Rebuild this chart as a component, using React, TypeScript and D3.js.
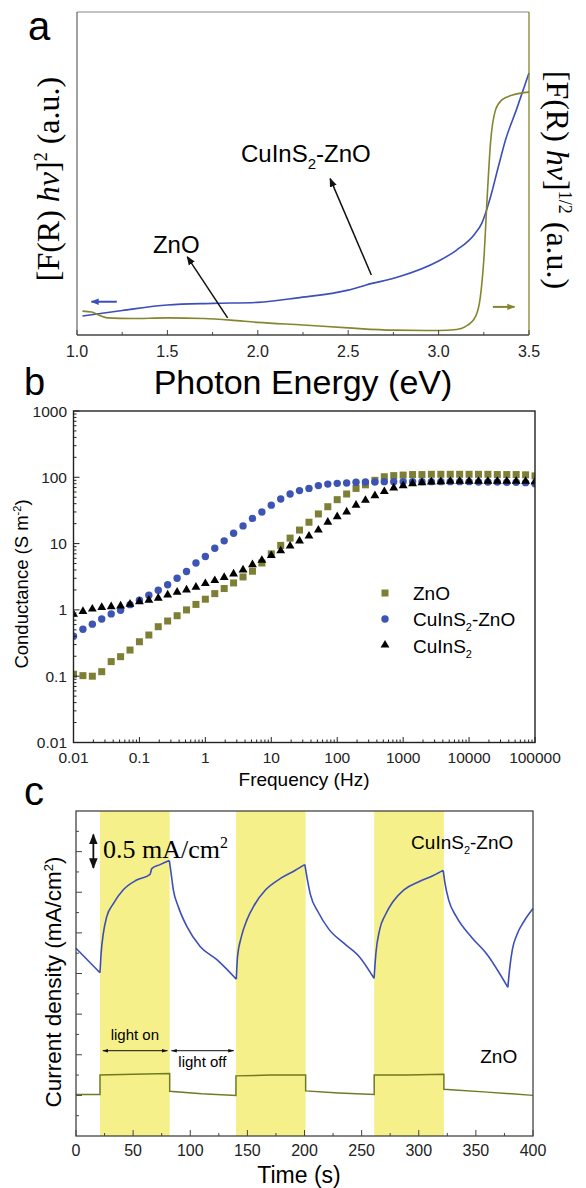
import React from "react";
import * as d3 from "d3";

// ---------- panel a : Kubelka-Munk plots ----------
const energyBlue = [1.03, 1.25, 1.5, 1.75, 2.0, 2.22, 2.5, 2.6, 2.78, 3.0, 3.1, 3.2, 3.24, 3.287, 3.33, 3.37, 3.43, 3.5];
const kmBlue = [5.9, 7.6, 9.3, 9.8, 10.1, 11.5, 13.9, 15.5, 18.0, 22.9, 26.3, 31.3, 34.7, 42.7, 52.0, 60.4, 69.7, 81.1];
const energyOlive = [1.03, 1.08, 1.12, 1.17, 1.3, 1.5, 1.7, 1.85, 2.0, 2.25, 2.5, 2.75, 3.0, 3.1, 3.148, 3.204, 3.231, 3.25, 3.27, 3.287, 3.315, 3.35, 3.41, 3.5];
const kmOlive = [7.4, 7.1, 6.2, 5.3, 5.1, 5.3, 5.1, 4.6, 3.9, 3.1, 2.2, 1.5, 1.4, 1.7, 2.6, 5.7, 11.8, 23.2, 44.0, 59.4, 69.7, 72.8, 74.3, 75.2];
const energyTicks = [1.0, 1.5, 2.0, 2.5, 3.0, 3.5];

// ---------- panel b : conductance vs frequency ----------
const freq = [
  0.01, 0.0139, 0.0193, 0.0268, 0.0373, 0.0518, 0.072,
  0.1, 0.139, 0.193, 0.268, 0.373, 0.518, 0.72,
  1, 1.39, 1.93, 2.68, 3.73, 5.18, 7.2,
  10, 13.9, 19.3, 26.8, 37.3, 51.8, 72,
  100, 139, 193, 268, 373, 518, 720,
  1000, 1390, 1930, 2680, 3730, 5180, 7200,
  10000, 13900, 19300, 26800, 37300, 51800, 72000, 100000,
];
const condZnO = [
  0.107, 0.102, 0.1, 0.117, 0.166, 0.197, 0.248,
  0.331, 0.418, 0.558, 0.68, 0.817, 1.0, 1.21,
  1.45, 1.76, 2.1, 2.55, 3.14, 3.83, 5.1,
  7.0, 9.4, 12.1, 16, 21, 28, 36,
  46, 56, 68, 77, 90, 102, 106,
  108, 110, 110, 111, 111, 111, 111,
  111, 111, 111, 110, 110, 110, 109, 105,
];
const condCuZnO = [
  0.4, 0.51, 0.61, 0.73, 0.87, 0.99, 1.2,
  1.4, 1.66, 1.98, 2.4, 3.0, 3.8, 5.1,
  6.4, 8.5, 11, 14.3, 18.5, 24, 30,
  38, 47, 56, 63, 68, 75, 79,
  81, 82, 84, 85, 85, 86, 86,
  86, 86, 86, 86, 86, 86, 86,
  86, 85, 85, 85, 84, 84, 83, 80,
];
const condCu = [
  0.86, 0.95, 1.03, 1.09, 1.12, 1.15, 1.22,
  1.33, 1.4, 1.5, 1.68, 1.85, 2.0, 2.2,
  2.5, 2.77, 3.1, 3.5, 4.0, 4.8, 5.6,
  6.6, 7.8, 9.2, 11, 13, 16, 21,
  25.5, 30, 38, 45, 53, 61, 69,
  75, 80, 83, 85, 86, 87, 87,
  87, 87, 87, 87, 87, 87, 87, 86,
];
const freqTicks = [0.01, 0.1, 1, 10, 100, 1000, 10000, 100000];
const freqTickLabels = ["0.01", "0.1", "1", "10", "100", "1000", "10000", "100000"];
const condTicks = [0.01, 0.1, 1, 10, 100, 1000];
const condTickLabels = ["0.01", "0.1", "1", "10", "100", "1000"];

// ---------- panel c : photocurrent ----------
const lightOn = [[21, 82], [140, 201], [261, 322]];
const timeBlue = [0, 21, 22, 23.9, 26.9, 32.7, 41.4, 53.1, 64.8, 66.3, 73.6, 81.7, 82.9, 85.2, 89.6, 97, 108.8, 123.3, 140.3,
  141.4, 144.7, 149.6, 156, 166, 179, 192, 200.3, 202.6, 205.2, 211.8, 221.6, 234.7, 247.8, 260.9,
  262.5, 265.8, 270.7, 277.2, 287, 300.1, 313.2, 321.4, 323, 326.3, 332.9, 346, 359, 378,
  379.5, 382, 386, 392, 400];
const jBlue = [2.31, 2.01, 2.25, 2.49, 2.7, 2.86, 3.03, 3.15, 3.22, 3.29, 3.34, 3.39, 3.27, 3.03, 2.82, 2.58, 2.33, 2.17, 1.93,
  2.21, 2.45, 2.66, 2.84, 3.03, 3.17, 3.27, 3.34, 3.15, 2.97, 2.76, 2.54, 2.37, 2.21, 1.94,
  2.25, 2.54, 2.72, 2.88, 3.03, 3.13, 3.21, 3.27, 3.11, 2.9, 2.7, 2.45, 2.25, 1.83,
  2.05, 2.3, 2.48, 2.64, 2.8];
const timeOlive = [0, 21, 21, 50, 82, 82, 110, 140, 140, 170, 201, 201, 230, 261, 261, 290, 322, 322, 360, 400];
const jOlive = [0.51, 0.51, 0.75, 0.76, 0.77, 0.55, 0.52, 0.5, 0.74, 0.75, 0.75, 0.555, 0.53, 0.51, 0.75, 0.75, 0.76, 0.575, 0.54, 0.5];
const timeTicks = [0, 50, 100, 150, 200, 250, 300, 350, 400];

const SANS = "Liberation Sans, Arial, sans-serif";
const SERIF = "Liberation Serif, Times New Roman, serif";
const BLUE = "#3c4fb8";
const OLIVE = "#85852e";
const AXIS = "#444";

// split a series at its turning points so each monotone piece can be smoothed
// without rounding off the cusps
function monotonePieces(pts: [number, number][]) {
  const pieces: [number, number][][] = [];
  let cur: [number, number][] = [pts[0]];
  let dir = 0;
  for (let i = 1; i < pts.length; i++) {
    const d = Math.sign(pts[i][1] - pts[i - 1][1]);
    if (dir !== 0 && d !== 0 && d !== dir) {
      pieces.push(cur);
      cur = [pts[i - 1]];
    }
    if (d !== 0) dir = d;
    cur.push(pts[i]);
  }
  pieces.push(cur);
  return pieces;
}

function PanelA() {
  const x = d3.scaleLinear().domain([1, 3.5]).range([77, 529]);
  const y = d3.scaleLinear().domain([0, 100]).range([335, 12]);
  const line = d3.line<number>().curve(d3.curveMonotoneX);
  const bluePath = line(energyBlue.map((e, i) => [x(e), y(kmBlue[i])] as [number, number]));
  const olivePath = line(energyOlive.map((e, i) => [x(e), y(kmOlive[i])] as [number, number]));
  const minor = d3.range(1.25, 3.5, 0.5);
  return (
    <g>
      <text x={28} y={40} fontFamily={SANS} fontSize={40}>a</text>
      <path d={bluePath!} fill="none" stroke={BLUE} strokeWidth={1.6} />
      <path d={olivePath!} fill="none" stroke={OLIVE} strokeWidth={1.6} />
      {/* frame */}
      <line x1={77} x2={529} y1={12} y2={12} stroke="#888" />
      <line x1={77} x2={77} y1={12} y2={335} stroke={AXIS} />
      <line x1={77} x2={529} y1={335} y2={335} stroke={AXIS} strokeWidth={1.3} />
      <line x1={529} x2={529} y1={12} y2={335} stroke={OLIVE} strokeWidth={1.3} />
      {energyTicks.map((t) => (
        <g key={t}>
          <line x1={x(t)} x2={x(t)} y1={335} y2={330} stroke={AXIS} />
          <text x={x(t)} y={357} textAnchor="middle" fontFamily={SANS} fontSize={16} fill="#222">{t.toFixed(1)}</text>
        </g>
      ))}
      {minor.map((t) => (
        <line key={t} x1={x(t)} x2={x(t)} y1={335} y2={332} stroke={AXIS} />
      ))}
      <text x={303} y={394} textAnchor="middle" fontFamily={SANS} fontSize={34}>Photon Energy (eV)</text>
      {/* axis labels */}
      <text transform="translate(59,179) rotate(-90)" textAnchor="middle" fontFamily={SERIF} fontSize={32}>
        [F(R) <tspan fontStyle="italic">hν</tspan>]<tspan dy={-12} fontSize={18}>2</tspan><tspan dy={12}> (a.u.)</tspan>
      </text>
      <text transform="translate(547,180) rotate(90)" textAnchor="middle" fontFamily={SERIF} fontSize={32}>
        [F(R) <tspan fontStyle="italic">hν</tspan>]<tspan dy={-12} fontSize={18}>1/2</tspan><tspan dy={12}> (a.u.)</tspan>
      </text>
      {/* small axis arrows */}
      <line x1={x(1.22)} x2={x(1.08)} y1={y(10.3)} y2={y(10.3)} stroke={BLUE} strokeWidth={2} markerEnd="url(#headBlue)" />
      <line x1={x(3.3)} x2={x(3.42)} y1={y(8.7)} y2={y(8.7)} stroke={OLIVE} strokeWidth={2} markerEnd="url(#headOlive)" />
      {/* annotations */}
      <text x={x(1.907)} y={y(53.6)} fontFamily={SANS} fontSize={24}>
        CuInS<tspan dy={7} fontSize={15}>2</tspan><tspan dy={-7}>-ZnO</tspan>
      </text>
      <line x1={x(2.628)} y1={y(18.6)} x2={x(2.4)} y2={y(48.4)} stroke="#111" strokeWidth={1.5} markerEnd="url(#headBlack)" />
      <text x={x(1.42)} y={y(25.4)} fontFamily={SANS} fontSize={24}>ZnO</text>
      <line x1={x(1.833)} y1={y(5.3)} x2={x(1.61)} y2={y(24.2)} stroke="#111" strokeWidth={1.5} markerEnd="url(#headBlack)" />
    </g>
  );
}

function PanelB() {
  const x = d3.scaleLog().domain([0.01, 100000]).range([73.5, 535]);
  const y = d3.scaleLog().domain([0.01, 1000]).range([742.5, 411]);
  const tri = d3.symbol(d3.symbolTriangle, 34)();
  const xMinor: number[] = [];
  freqTicks.slice(0, -1).forEach((d) => { for (let k = 2; k < 10; k++) xMinor.push(d * k); });
  const yMinor: number[] = [];
  condTicks.slice(0, -1).forEach((d) => { for (let k = 2; k < 10; k++) yMinor.push(d * k); });
  return (
    <g>
      <text x={24} y={395} fontFamily={SANS} fontSize={38}>b</text>
      <defs>
        <clipPath id="clipB"><rect x={73.5} y={411} width={461.5} height={331.5} /></clipPath>
      </defs>
      <g clipPath="url(#clipB)">
        {freq.map((f, i) => (
          <rect key={"s" + i} x={x(f) - 3.5} y={y(condZnO[i]) - 3.5} width={7} height={7} fill="#7e7f35" />
        ))}
        {freq.map((f, i) => (
          <circle key={"c" + i} cx={x(f)} cy={y(condCuZnO[i])} r={3.7} fill="#3c55b4" />
        ))}
        {freq.map((f, i) => (
          <path key={"t" + i} d={tri!} transform={`translate(${x(f)},${y(condCu[i])})`} fill="#000" />
        ))}
      </g>
      <rect x={73.5} y={411} width={461.5} height={331.5} fill="none" stroke="#222" strokeWidth={1.4} />
      {freqTicks.map((t, i) => (
        <g key={t}>
          <line x1={x(t)} x2={x(t)} y1={742.5} y2={737} stroke="#222" />
          <text x={x(t)} y={763} textAnchor="middle" fontFamily={SANS} fontSize={15.5} fill="#222">{freqTickLabels[i]}</text>
        </g>
      ))}
      {xMinor.map((t) => (
        <line key={t} x1={x(t)} x2={x(t)} y1={742.5} y2={739.5} stroke="#222" />
      ))}
      {condTicks.map((t, i) => (
        <g key={t}>
          <line x1={73.5} x2={79.5} y1={y(t)} y2={y(t)} stroke="#222" />
          <text x={67} y={y(t) + 5.5} textAnchor="end" fontFamily={SANS} fontSize={15.5} fill="#222">{condTickLabels[i]}</text>
        </g>
      ))}
      {yMinor.map((t) => (
        <line key={t} x1={73.5} x2={76.5} y1={y(t)} y2={y(t)} stroke="#222" />
      ))}
      <text x={304} y={786} textAnchor="middle" fontFamily={SANS} fontSize={19}>Frequency (Hz)</text>
      <text transform="translate(28,584) rotate(-90)" textAnchor="middle" fontFamily={SANS} fontSize={18.5}>
        Conductance (S m<tspan dy={-7} fontSize={11}>-2</tspan><tspan dy={7}>)</tspan>
      </text>
      {/* legend */}
      <rect x={381.5} y={589.5} width={7} height={7} fill="#7e7f35" />
      <text x={413} y={600} fontFamily={SANS} fontSize={19}>ZnO</text>
      <circle cx={385} cy={619} r={3.7} fill="#3c55b4" />
      <text x={413} y={626} fontFamily={SANS} fontSize={19}>
        CuInS<tspan dy={5} fontSize={11}>2</tspan><tspan dy={-5}>-ZnO</tspan>
      </text>
      <path d={tri!} transform="translate(385,645)" fill="#000" />
      <text x={413} y={653} fontFamily={SANS} fontSize={19}>
        CuInS<tspan dy={5} fontSize={11}>2</tspan>
      </text>
    </g>
  );
}

function PanelC() {
  const x = d3.scaleLinear().domain([0, 400]).range([76, 533]);
  const y = d3.scaleLinear().domain([0, 4]).range([1136, 811]);
  const smooth = d3.line<[number, number]>().curve(d3.curveMonotoneX);
  const bluePts = timeBlue.map((t, i) => [x(t), y(jBlue[i])] as [number, number]);
  const bluePath = monotonePieces(bluePts).map((p) => smooth(p)).join("");
  const olivePath = d3.line<[number, number]>()(timeOlive.map((t, i) => [x(t), y(jOlive[i])] as [number, number]));
  const yMajor = d3.range(0.5, 4, 0.5);
  const yMinor = d3.range(0.25, 4, 0.5);
  const xMinor = d3.range(25, 400, 50);
  return (
    <g>
      <text x={24} y={805} fontFamily={SANS} fontSize={40}>c</text>
      {lightOn.map(([a, b]) => (
        <rect key={a} x={x(a)} y={811} width={x(b) - x(a)} height={325} fill="#f6f08a" />
      ))}
      <path d={bluePath} fill="none" stroke={BLUE} strokeWidth={1.6} strokeLinejoin="round" />
      <path d={olivePath!} fill="none" stroke="#6f7a22" strokeWidth={1.5} />
      <rect x={76} y={811} width={457} height={325} fill="none" stroke={AXIS} strokeWidth={1.3} />
      {timeTicks.map((t) => (
        <g key={t}>
          <line x1={x(t)} x2={x(t)} y1={1136} y2={1130} stroke={AXIS} />
          <text x={x(t)} y={1156} textAnchor="middle" fontFamily={SANS} fontSize={16} fill="#222">{t}</text>
        </g>
      ))}
      {xMinor.map((t) => (
        <line key={t} x1={x(t)} x2={x(t)} y1={1136} y2={1133} stroke={AXIS} />
      ))}
      {yMajor.map((v) => (
        <line key={v} x1={76} x2={82} y1={y(v)} y2={y(v)} stroke={AXIS} />
      ))}
      {yMinor.map((v) => (
        <line key={v} x1={76} x2={79} y1={y(v)} y2={y(v)} stroke={AXIS} />
      ))}
      <text x={299} y={1183} textAnchor="middle" fontFamily={SANS} fontSize={23}>Time (s)</text>
      <text transform="translate(61,982) rotate(-90)" textAnchor="middle" fontFamily={SANS} fontSize={22.5}>
        Current density (mA/cm<tspan dy={-8} fontSize={13}>2</tspan><tspan dy={8}>)</tspan>
      </text>
      {/* scale bar */}
      <line x1={x(15.2)} x2={x(15.2)} y1={y(3.3)} y2={y(3.71)} stroke="#111" strokeWidth={1.8}
        markerStart="url(#headBlack)" markerEnd="url(#headBlack)" />
      <text x={x(23.6)} y={y(3.42)} fontFamily={SERIF} fontSize={26}>
        0.5 mA/cm<tspan dy={-10} fontSize={16}>2</tspan>
      </text>
      <text x={x(293.3)} y={y(3.53)} fontFamily={SANS} fontSize={19}>
        CuInS<tspan dy={5} fontSize={11}>2</tspan><tspan dy={-5}>-ZnO</tspan>
      </text>
      <text x={x(353.8)} y={y(0.9)} fontFamily={SANS} fontSize={19}>ZnO</text>
      {/* light on / off */}
      <text x={x(51.5)} y={y(1.18)} textAnchor="middle" fontFamily={SANS} fontSize={15}>light on</text>
      <line x1={x(23.5)} x2={x(80)} y1={y(1.05)} y2={y(1.05)} stroke="#111" strokeWidth={1}
        markerStart="url(#headSmall)" markerEnd="url(#headSmall)" />
      <line x1={x(83.5)} x2={x(138)} y1={y(1.05)} y2={y(1.05)} stroke="#111" strokeWidth={1}
        markerStart="url(#headSmall)" markerEnd="url(#headSmall)" />
      <text x={x(110.6)} y={y(0.85)} textAnchor="middle" fontFamily={SANS} fontSize={15}>light off</text>
    </g>
  );
}

export default function App() {
  return (
    <svg width={586} height={1188} style={{ position: "absolute", left: 0, top: 0, background: "#fff" }}>
      <defs>
        <marker id="headBlack" viewBox="0 0 10 10" refX={9} refY={5} markerWidth={6} markerHeight={6} orient="auto-start-reverse">
          <path d="M0,1 L10,5 L0,9 z" fill="#111" />
        </marker>
        <marker id="headSmall" viewBox="0 0 10 10" refX={9} refY={5} markerWidth={6} markerHeight={6} orient="auto-start-reverse">
          <path d="M0,2 L10,5 L0,8 z" fill="#111" />
        </marker>
        <marker id="headBlue" viewBox="0 0 10 10" refX={9} refY={5} markerWidth={4} markerHeight={4} orient="auto">
          <path d="M0,1 L10,5 L0,9 z" fill={BLUE} />
        </marker>
        <marker id="headOlive" viewBox="0 0 10 10" refX={9} refY={5} markerWidth={4} markerHeight={4} orient="auto">
          <path d="M0,1 L10,5 L0,9 z" fill={OLIVE} />
        </marker>
      </defs>
      <rect width={586} height={1188} fill="#fff" />
      <PanelA />
      <PanelB />
      <PanelC />
    </svg>
  );
}
